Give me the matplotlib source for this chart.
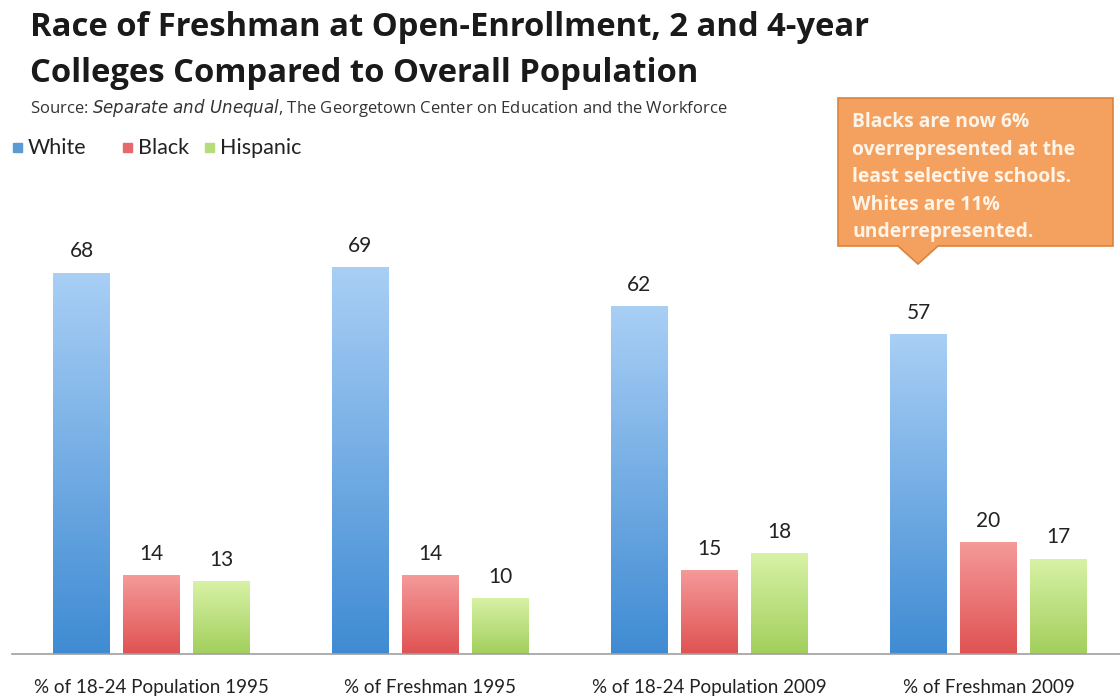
import numpy as np
import matplotlib
matplotlib.use("Agg")
import matplotlib.pyplot as plt
from matplotlib.patches import Polygon, Rectangle

categories = ["% of 18-24 Population 1995", "% of Freshman 1995",
              "% of 18-24 Population 2009", "% of Freshman 2009"]
series_names = ["White", "Black", "Hispanic"]
white = [68, 69, 62, 57]
black = [14, 14, 15, 20]
hispanic = [13, 10, 18, 17]

colors_top = ["#a9cff5", "#f59a9a", "#d8f2a6"]
colors_bot = ["#3f8bd3", "#e05252", "#a2cf5c"]
legend_colors = ["#5b9bd5", "#e8696b", "#b5dd7a"]

FONT = "Lato"
plt.rcParams['font.family'] = [FONT, 'DejaVu Sans']
WIDE = ["Open Sans", "DejaVu Sans"]

W, H = 1120, 700
fig = plt.figure(figsize=(W/100, H/100), dpi=100)
fig.patch.set_facecolor("white")

ax_left = 12 / W
ax_w = (W - 12) / W
ax_bottom = 46 / H
ylim_top = 80
ax_h = ylim_top * 5.61 / H
ax = fig.add_axes([ax_left, ax_bottom, ax_w, ax_h])
group_px = 279
for s in ["top", "right", "left"]:
    ax.spines[s].set_visible(False)
ax.spines["bottom"].set_color("#a0a0a0")
ax.spines["bottom"].set_linewidth(1.2)
ax.set_yticks([])
ax.set_xticks([])

x = np.arange(len(categories))
bw = 57 / group_px
step = 70 / group_px
data = [white, black, hispanic]
for i, vals in enumerate(data):
    xs = x + (i - 1) * step
    bars = ax.bar(xs, vals, width=bw, color="none", edgecolor="none")
    c1 = np.array(matplotlib.colors.to_rgb(colors_top[i]))
    c2 = np.array(matplotlib.colors.to_rgb(colors_bot[i]))
    grad = np.linspace(0, 1, 256)[:, None]
    img = c1[None, None, :] * (1 - grad[..., None]) + c2[None, None, :] * grad[..., None]
    for b, v in zip(bars, vals):
        x0 = b.get_x()
        im = ax.imshow(img, extent=[x0, x0 + bw, 0, v], aspect="auto", zorder=2,
                       interpolation="bilinear")
        im.set_clip_path(b)
        ax.text(x0 + bw / 2, v + 2.0, str(v), ha="center",
                va="bottom", fontsize=15, color="#222222")
ax.set_xlim(-0.5, -0.5 + (W - 12) / group_px)
ax.set_ylim(0, ylim_top)

for xi, c in zip(x, categories):
    ax.text(xi, -6.0, c, ha="center", va="center", fontsize=13.5, color="#222222")

# Title
fig.text(30 / W, 1 - 28 / H, "Race of Freshman at Open-Enrollment, 2 and 4-year",
         fontsize=23.6, fontweight="bold", color="#1a1a1a", va="center", ha="left",
         family=WIDE)
fig.text(30 / W, 1 - 74 / H, "Colleges Compared to Overall Population",
         fontsize=23.6, fontweight="bold", color="#1a1a1a", va="center", ha="left",
         family=WIDE)
fig.text(30 / W, 1 - 108 / H,
         r"Source: $\it{Separate\ and\ Unequal}$, The Georgetown Center on Education and the Workforce",
         fontsize=12, color="#333333", va="center", ha="left", family=WIDE)

# Legend
leg_items = [(13, 28), (123, 138), (205, 220)]
for (sx, tx), name, col in zip(leg_items, series_names, legend_colors):
    fig.patches.append(Rectangle((sx / W, 1 - 152 / H), 9 / W, 9 / H,
                                 transform=fig.transFigure, color=col))
    fig.text(tx / W, 1 - 148 / H, name, fontsize=15.5, color="#222222",
             va="center", ha="left")

# Callout
bx0, bx1, by0, by1 = 838, 1113, 98, 246
tri_x, tri_w, tri_tip = 918, 20, 264
pts = [(bx0, by0), (bx1, by0), (bx1, by1), (tri_x + tri_w, by1), (tri_x, tri_tip),
       (tri_x - tri_w, by1), (bx0, by1)]
pts = [(px / W, 1 - py / H) for px, py in pts]
fig.patches.append(Polygon(pts, closed=True, transform=fig.transFigure,
                           facecolor="#f4a160", edgecolor="#d9833c", linewidth=1.2))
callout_lines = ["Blacks are now 6%", "overrepresented at the",
                 "least selective schools.", "Whites are 11%", "underrepresented."]
for k, line in enumerate(callout_lines):
    fig.text(852 / W, 1 - (122 + k * 27.5) / H, line, fontsize=13.9, fontweight="bold",
             color="#fff4e8", va="center", ha="left", family=WIDE)

fig.savefig("out.png", dpi=100, facecolor="white")
